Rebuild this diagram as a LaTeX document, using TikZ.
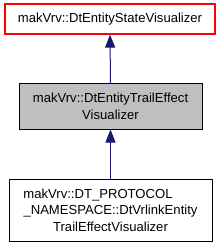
\documentclass[tikz,border=0pt]{standalone}
\usepackage{fontspec}
\setmainfont{Liberation Sans}
\usetikzlibrary{arrows.meta}
\definecolor{navy}{RGB}{25,25,112}
\definecolor{boxgray}{RGB}{191,191,191}
\tikzset{
  cls/.style={line width=1pt, inner sep=0pt, align=center,
    font=\fontsize{13.1}{16.5}\selectfont},
  inh/.style={draw=navy, line width=1pt, -{Triangle[length=13pt,width=10pt]}},
}
\begin{document}
\begin{tikzpicture}[x=1pt,y=-1pt]
\useasboundingbox (0,0) rectangle (221,248);
\node[cls, draw, red, text=black, line width=1.2pt, fill=white, minimum width=210pt, minimum height=30pt] (b1) at (110,19) {makVrv::DtEntityStateVisualizer};
\node[cls, draw=black, fill=boxgray, minimum width=183pt, minimum height=45pt] (b2) at (110.5,106.5) {makVrv::DtEntityTrailEffect\\Visualizer};
\node[cls, draw=black, fill=white, minimum width=203pt, minimum height=62pt] (b3) at (110.5,210) {makVrv::DT\_PROTOCOL\hspace*{25pt}\\\_NAMESPACE::DtVrlinkEntity\\TrailEffectVisualizer};
\draw[inh] (b2.north) -- (b1.south);
\draw[inh] (b3.north) -- (b2.south);
\end{tikzpicture}
\end{document}
